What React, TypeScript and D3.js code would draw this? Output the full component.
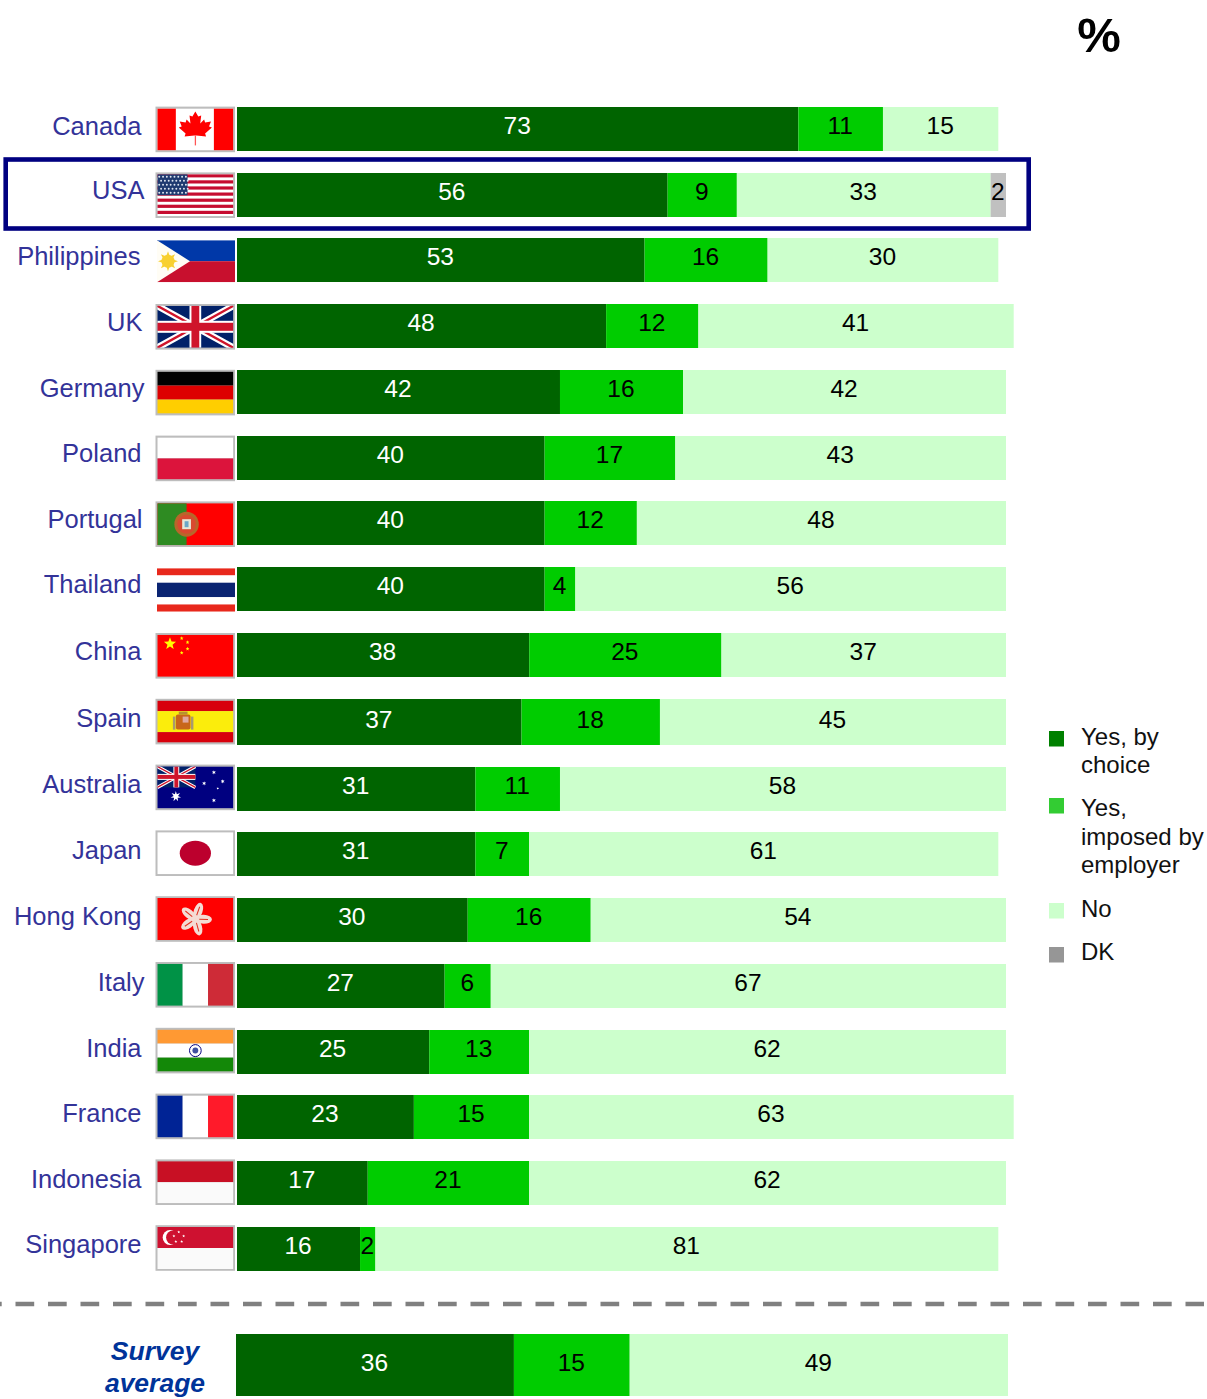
import React from "react";
import * as d3 from "d3";

const countries = ["Canada","USA","Philippines","UK","Germany","Poland","Portugal","Thailand","China","Spain","Australia","Japan","Hong Kong","Italy","India","France","Indonesia","Singapore"];
const yesByChoice = [73,56,53,48,42,40,40,40,38,37,31,31,30,27,25,23,17,16];
const yesImposed = [11,9,16,12,16,17,12,4,25,18,11,7,16,6,13,15,21,2];
const no = [15,33,30,41,42,43,48,56,37,45,58,61,54,67,62,63,62,81];
const dk = [0,2,0,0,0,0,0,0,0,0,0,0,0,0,0,0,0,0];
const averageLabel = ["Survey","average"];
const averageValues = [36,15,49];
const legendEntries = [["Yes, by","choice"],["Yes,","imposed by","employer"],["No"],["DK"]];

const rowTops = [107,173,238,304,370,436,501,567,633,699,767,832,898,964,1030,1095,1161,1227];
const labelRight = [141.5,144.5,140.5,142.5,144.5,141.5,142.5,141.5,141.5,141.5,141.5,141.5,141.5,144.5,141.5,141.5,141.5,141.5];
const labelBase = [134.5,199,265,331,397,462,528,593,660,727,793,859,925,991,1057,1122,1188,1253];
const SANS = "'Liberation Sans', Arial, sans-serif";
const fills = ["#006400","#00CC00","#CCFFCC","#C0C0C0"];
const legendFills = ["#008000","#33CC33","#CCFFCC","#969696"];
const legendBoxes = [731,798,903,947];
const legendBases = [[745,773],[816,844.5,873],[917],[960]];

const x = d3.scaleLinear().domain([0,100]).range([237,1006]);
const xAvg = d3.scaleLinear().domain([0,100]).range([236,1008]);

const keys = ["a","b","c","d"];
const table = countries.map((c,i)=>({a:yesByChoice[i],b:yesImposed[i],c:no[i],d:dk[i]}));
const stacked = d3.stack<any>().keys(keys)(table);
const avgStack = d3.stack<any>().keys(keys)([{a:averageValues[0],b:averageValues[1],c:averageValues[2],d:0}]);

const leafHalf:[number,number][] = [[0,3],[3,8],[6,7],[5,15],[9,11],[10,14],[16,13],[14,18],[17,19],[10,25],[11,28],[1,27]];
const leafPath = "M"+[...leafHalf.map(([a,b])=>`${39+a},${b}`),...leafHalf.slice().reverse().map(([a,b])=>`${39-a},${b}`)].join("L")+"Z";

function star(cx:number,cy:number,r:number,fill:string,n=5,inner=0.42){
  const pts:[number,number][] = d3.range(n*2).map(k=>[k*Math.PI/n,k%2?r*inner:r]);
  const d = d3.lineRadial().curve(d3.curveLinearClosed)(pts) as string;
  return <path key={`${cx}-${cy}`} d={d} transform={`translate(${cx},${cy})`} fill={fill}/>;
}
const bands = (cols:string[],w=78,h=42,weights?:number[])=>{
  const ws = weights||cols.map(()=>1); const t=d3.sum(ws); let acc=0;
  return cols.map((c,i)=>{const y=acc/t*h; const bh=ws[i]/t*h; acc+=ws[i]; return <rect key={i} x={0} y={y} width={w} height={bh} fill={c}/>;});
};
const vbands = (cols:string[])=>cols.map((c,i)=><rect key={i} x={i*26} y={0} width={26} height={42} fill={c}/>);
function union(w:number,h:number){
  const s=h/42*4;
  return <g>
    <rect width={w} height={h} fill="#012169"/>
    <path d={`M0,0L${w},${h}M${w},0L0,${h}`} stroke="#fff" strokeWidth={s*1.7}/>
    <path d={`M0,0L${w},${h}M${w},0L0,${h}`} stroke="#CF142B" strokeWidth={s*0.6}/>
    <rect x={w/2-s*1.5} width={s*3} height={h} fill="#fff"/><rect y={h/2-s*1.5} width={w} height={s*3} fill="#fff"/>
    <rect x={w/2-s} width={s*2} height={h} fill="#CF142B"/><rect y={h/2-s} width={w} height={s*2} fill="#CF142B"/>
  </g>;
}
function flagBody(name:string){
  switch(name){
    case "Canada": return <g><rect width={78} height={42} fill="#fff"/><rect width={19} height={42} fill="#f00"/><rect x={58} width={20} height={42} fill="#f00"/>
      <path d={leafPath} fill="#f00"/><rect x={38.4} y={27} width={1.3} height={10} fill="#f55"/></g>;
    case "USA": return <g><rect width={78} height={42} fill="#fff"/>{d3.range(7).map(i=><rect key={i} y={i*6.1} width={78} height={3.2} fill="#C60C30"/>)}<rect width={31} height={21} fill="#1F3A70"/>
      {d3.range(5).flatMap(r=>d3.range(8).map(c=><circle key={`${r}${c}`} cx={2+c*3.9+(r%2)*1.9} cy={2.5+r*4} r={1} fill="#dfe6f0"/>))}</g>;
    case "Philippines": return <g><rect width={78} height={21} fill="#0038A8"/><rect y={21} width={78} height={21} fill="#C8102E"/><path d="M0,0L33,21L0,42z" fill="#fffdf5"/><circle cx={11} cy={21} r={6.5} fill="#F8D030"/>{star(11,21,10,"#F8D030",8,0.5)}</g>;
    case "UK": return union(78,42);
    case "Germany": return bands(["#000","#DD0000","#FFCE00"]);
    case "Poland": return bands(["#fff","#DC143C"]);
    case "Portugal": return <g><rect width={78} height={42} fill="#f00"/><rect width={30} height={42} fill="#2E8B22"/><circle cx={30} cy={21} r={12.5} fill="#B8662A"/><circle cx={30} cy={21} r={9.5} fill="#D84A30"/><rect x={25.5} y={16} width={9} height={10} fill="#E8E8D8"/><rect x={28} y={18} width={4} height={6} fill="#6AA8C8"/></g>;
    case "Thailand": return bands(["#E8281C","#fff","#0A2472","#fff","#E8281C"],78,42,[1,1,2,1,1]);
    case "China": return <g><rect width={78} height={42} fill="#f00"/>{star(13,9,6.5,"#FFFF00")}{star(25,3.5,2,"#FFFF00")}{star(31,7.5,2,"#FFFF00")}{star(31,14,2,"#FFFF00")}{star(25,18,2,"#FFFF00")}</g>;
    case "Spain": return <g>{bands(["#D8000C","#FBED0C","#D8000C"],78,42,[1,2,1])}<rect x={19} y={14} width={15} height={15} rx={2} fill="#C8661A"/><rect x={22} y={11} width={9} height={3} fill="#B89030"/><rect x={26} y={16} width={6} height={6} fill="#E0A8A0"/><rect x={16} y={16} width={2.5} height={13} fill="#A89A70"/><rect x={34.5} y={16} width={2.5} height={13} fill="#A89A70"/></g>;
    case "Australia": return <g><rect width={78} height={42} fill="#000080"/><g>{union(39,21)}</g>{star(19,30,5.5,"#fff",7)}{star(58,6,2.2,"#fff",6)}{star(48,17,2.2,"#fff",6)}{star(67,15,2.2,"#fff",6)}{star(62,22,1.4,"#fff",6)}{star(58,34,2.2,"#fff",6)}</g>;
    case "Japan": return <g><rect width={78} height={42} fill="#fff"/><ellipse cx={39} cy={21} rx={16} ry={12.5} fill="#BC002D"/></g>;
    case "Hong Kong": return <g><rect width={78} height={42} fill="#f00"/>{d3.range(5).map(i=><g key={i} transform={`rotate(${i*72+20} 39 21)`}><ellipse cx={39} cy={12.5} rx={4.5} ry={8.5} fill="#F4DCD4"/><line x1={39} x2={39} y1={8} y2={17} stroke="#E03020" strokeWidth={1}/></g>)}</g>;
    case "Italy": return vbands(["#009246","#fff","#CE2B37"]);
    case "India": return <g>{bands(["#FF9933","#fff","#138808"])}<circle cx={39} cy={21} r={6} fill="none" stroke="#000080" strokeWidth={1}/><circle cx={39} cy={21} r={3} fill="#4050A0"/></g>;
    case "France": return vbands(["#002395","#fff","#FF1A2A"]);
    case "Indonesia": return bands(["#C81024","#FAFAFA"]);
    case "Singapore": return <g>{bands(["#CE1130","#FAFAFA"])}<circle cx={13} cy={10.5} r={7.5} fill="#fff"/><circle cx={16} cy={10.5} r={7} fill="#CE1130"/>{star(22,5,1.6,"#fff")}{star(27,9,1.6,"#fff")}{star(25,14.5,1.6,"#fff")}{star(19,14.5,1.6,"#fff")}{star(17,9,1.6,"#fff")}</g>;
  }
  return null;
}
function Flag({name,i}:{name:string;i:number}){
  const top = 106.6+65.8*i;
  const plain = name==="Philippines"||name==="Thailand";
  if(plain) return <svg x={157} y={name==="Thailand"?top+1:top+2} width={78} height={name==="Thailand"?43.5:42} viewBox="0 0 78 42" preserveAspectRatio="none">{flagBody(name)}</svg>;
  return <g>
    <rect x={155.5} y={top} width={79.5} height={45.6} fill="#BDBDBD"/>
    <svg x={157.3} y={top+1.8} width={76.1} height={42} viewBox="0 0 78 42" preserveAspectRatio="none">{flagBody(name)}</svg>
  </g>;
}

export default function App(){
  const valueLabel = (v:number,x0:number,x1:number,base:number,idx:number,k:string)=>(
    v>0 ? <text key={k} x={(x0+x1)/2-0.5} y={base} textAnchor="middle" fontSize={24.5} fill={idx===0?"#fff":"#000"}>{v}</text> : null
  );
  return (
    <svg width={1207} height={1399} style={{position:"absolute",left:0,top:0,display:"block",background:"#fff"}} fontFamily={SANS}>
      <text x={1099} y={52} textAnchor="middle" fontSize={49} fontWeight="bold" fill="#000">%</text>

      {countries.map((c,i)=>{
        const h = c==="Spain"?46:44;
        return <g key={c}>
          <text x={labelRight[i]} y={labelBase[i]} textAnchor="end" fontSize={25.5} fill="#333399">{c}</text>
          <Flag name={c} i={i}/>
          {stacked.map((s,k)=> s[i][1]>s[i][0] ? <rect key={k} x={x(s[i][0])} y={rowTops[i]} width={x(s[i][1])-x(s[i][0])} height={h} fill={fills[k]}/> : null)}
          {stacked.map((s,k)=>valueLabel(s[i][1]-s[i][0],x(s[i][0]),x(s[i][1]),rowTops[i]+h-17,k,`t${k}`))}
        </g>;
      })}

      <rect x={5.7} y={159.5} width={1023} height={69} fill="none" stroke="#000080" strokeWidth={4.6}/>

      <line x1={-17} x2={1204} y1={1304} y2={1304} stroke="#808080" strokeWidth={4.5} strokeDasharray="18.7 13.8"/>

      {averageLabel.map((t,i)=><text key={t} x={155} y={1360+i*31.7} textAnchor="middle" fontSize={26.5} fontWeight="bold" fontStyle="italic" fill="#003399">{t}</text>)}
      {avgStack.map((s,k)=> s[0][1]>s[0][0] ? <rect key={k} x={xAvg(s[0][0])} y={1334} width={xAvg(s[0][1])-xAvg(s[0][0])} height={62} fill={fills[k]}/> : null)}
      {avgStack.map((s,k)=>valueLabel(s[0][1]-s[0][0],xAvg(s[0][0]),xAvg(s[0][1]),1371,k,`a${k}`))}

      {legendEntries.map((lines,i)=><g key={i}>
        <rect x={1049} y={legendBoxes[i]} width={15} height={15.5} fill={legendFills[i]}/>
        {lines.map((l,j)=><text key={l} x={1081} y={legendBases[i][j]} fontSize={24} fill="#111">{l}</text>)}
      </g>)}
    </svg>
  );
}
